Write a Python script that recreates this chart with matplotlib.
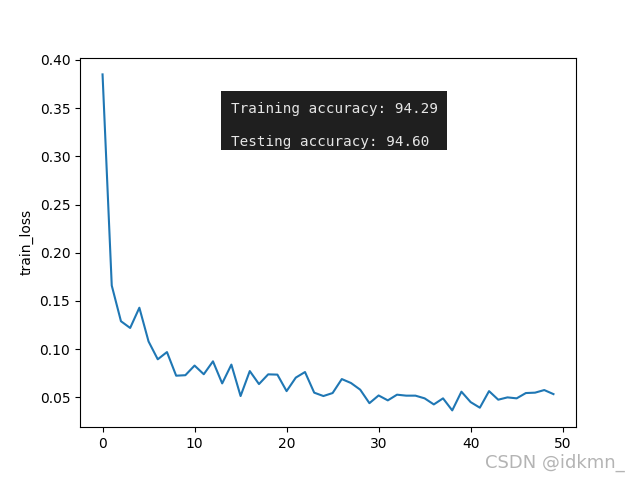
import matplotlib
matplotlib.use("Agg")
import matplotlib.pyplot as plt
from matplotlib.patches import Rectangle

train_loss = [0.385, 0.166, 0.129, 0.122, 0.143, 0.108, 0.0895, 0.097, 0.0725, 0.073,
              0.083, 0.074, 0.0874, 0.0645, 0.084, 0.0514, 0.0773, 0.0638, 0.0739, 0.0736,
              0.0565, 0.0705, 0.0763, 0.0549, 0.0514, 0.0545, 0.069, 0.0649, 0.058, 0.044,
              0.052, 0.0469, 0.0528, 0.0518, 0.0518, 0.049, 0.0427, 0.049, 0.0365, 0.0559,
              0.0451, 0.0393, 0.0565, 0.0476, 0.050, 0.049, 0.0545, 0.0549, 0.0576, 0.0534]
epochs = list(range(len(train_loss)))
train_acc_text = "Training accuracy: 94.29"
test_acc_text = "Testing accuracy: 94.60"
watermark = "CSDN @idkmn_"

fig = plt.figure(figsize=(6.4, 4.8), dpi=100)
ax = fig.add_subplot(111)
ax.plot(epochs, train_loss)
ax.set_ylabel("train_loss")

fig.patches.append(Rectangle((221/640, 330/480), 226/640, 59/480,
                             transform=fig.transFigure, facecolor="#1f1f1f",
                             edgecolor="none", zorder=5))
fig.text(231/640, (480-113)/480, train_acc_text, family="DejaVu Sans Mono",
         fontsize=10.3, color="#e6e6e6", va="baseline", ha="left", zorder=6)
fig.text(231/640, (480-146)/480, test_acc_text, family="DejaVu Sans Mono",
         fontsize=10.3, color="#e6e6e6", va="baseline", ha="left", zorder=6)
fig.text(625/640, (480-468)/480, watermark, fontsize=13, color="#b4b4b4",
         va="baseline", ha="right")

fig.savefig("out.png", dpi=100)
